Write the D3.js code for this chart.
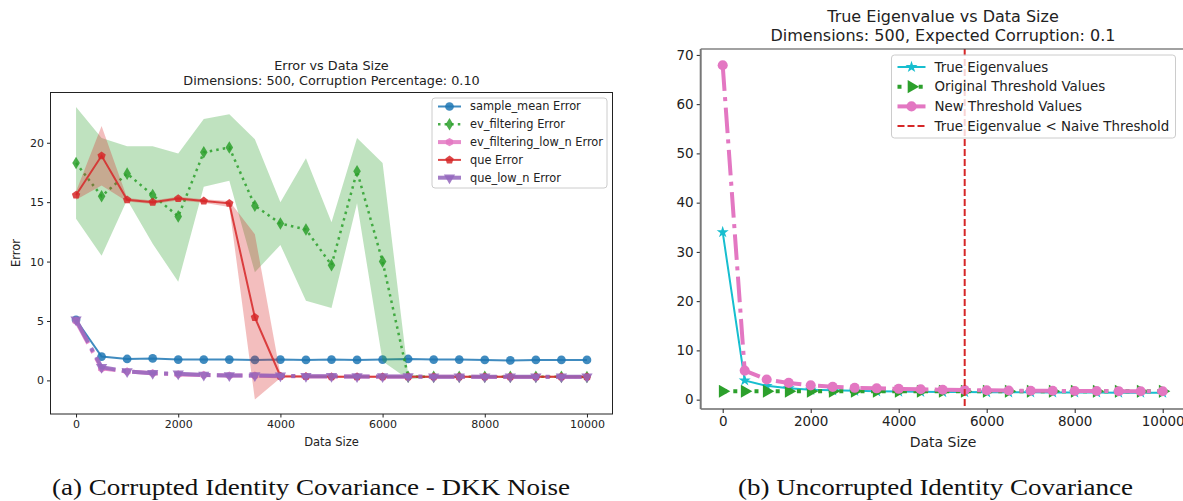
<!DOCTYPE html>
<html>
<head>
<meta charset="utf-8">
<script src="https://cdn.jsdelivr.net/npm/d3@7"></script>
<style>
  body { margin: 0; background: #fff; }
  svg { display: block; font-family: "DejaVu Sans", sans-serif; }
  .cap { font-family: "Liberation Serif", "DejaVu Serif", serif; }
</style>
</head>
<body>
<svg id="fig" width="1183" height="501"></svg>
<script>
// ---- data: left panel (errors vs data size) ----
const sizes = [0, 500, 1000, 1500, 2000, 2500, 3000, 3500, 4000, 4500, 5000,
               5500, 6000, 6500, 7000, 7500, 8000, 8500, 9000, 9500, 10000];

const sampleMean = [5.1, 2.0, 1.8, 1.85, 1.75, 1.75, 1.75, 1.72, 1.75, 1.72, 1.75,
                    1.72, 1.75, 1.8, 1.75, 1.75, 1.72, 1.68, 1.72, 1.72, 1.72];
const evFilt     = [18.3, 15.5, 17.4, 15.6, 13.8, 19.2, 19.6, 14.7, 13.2, 12.7, 9.7,
                    17.6, 10.0, 0.3, 0.3, 0.3, 0.3, 0.3, 0.3, 0.3, 0.28];
const evFiltHi   = [23.0, 20.4, 19.7, 19.7, 19.1, 22.0, 22.4, 20.3, 15.0, 18.7, 13.3,
                    20.4, 18.3, 0.5, 0.35, 0.35, 0.35, 0.35, 0.35, 0.35, 0.33];
const evFiltLo   = [13.6, 10.5, 15.2, 11.5, 8.3, 16.3, 16.8, 9.1, 11.4, 6.7, 6.1,
                    14.9, 1.6, 0.1, 0.25, 0.25, 0.25, 0.25, 0.25, 0.25, 0.23];
const evFiltLowN = [5.0, 1.0, 0.75, 0.6, 0.5, 0.45, 0.4, 0.4, 0.35, 0.33, 0.32,
                    0.32, 0.3, 0.3, 0.3, 0.3, 0.29, 0.29, 0.28, 0.28, 0.28];
const que        = [15.6, 18.9, 15.2, 15.0, 15.3, 15.1, 14.9, 5.3, 0.35, 0.32, 0.3,
                    0.3, 0.3, 0.3, 0.3, 0.3, 0.3, 0.3, 0.3, 0.3, 0.3];
const queHi      = [15.9, 21.4, 15.35, 15.15, 15.45, 15.25, 15.1, 12.3, 0.5, 0.4, 0.38,
                    0.38, 0.38, 0.38, 0.38, 0.38, 0.38, 0.38, 0.38, 0.38, 0.38];
const queLo      = [15.2, 16.4, 15.05, 14.85, 15.15, 14.95, 14.6, -1.6, 0.2, 0.24, 0.22,
                    0.22, 0.22, 0.22, 0.22, 0.22, 0.22, 0.22, 0.22, 0.22, 0.22];
const queLowN    = [5.1, 1.1, 0.75, 0.6, 0.55, 0.45, 0.42, 0.42, 0.38, 0.35, 0.34,
                    0.33, 0.32, 0.32, 0.31, 0.31, 0.3, 0.3, 0.3, 0.3, 0.3];

// ---- data: right panel (eigenvalues vs data size) ----
const trueEig  = [34.0, 3.9, 2.8, 2.3, 2.0, 1.9, 1.8, 1.7, 1.65, 1.6, 1.55,
                  1.55, 1.5, 1.5, 1.5, 1.45, 1.45, 1.45, 1.42, 1.42, 1.4];
const origThr  = [1.7, 1.7, 1.7, 1.7, 1.7, 1.7, 1.7, 1.7, 1.7, 1.7, 1.7,
                  1.7, 1.7, 1.7, 1.7, 1.7, 1.7, 1.7, 1.7, 1.7, 1.7];
const newThr   = [67.9, 5.9, 4.1, 3.4, 2.9, 2.6, 2.4, 2.3, 2.2, 2.1, 2.0,
                  1.95, 1.9, 1.85, 1.8, 1.8, 1.75, 1.75, 1.72, 1.7, 1.7];
const naiveCross = 5500;

const xTicks = [0, 2000, 4000, 6000, 8000, 10000];
const leftYTicks = [0, 5, 10, 15, 20];
const rightYTicks = [0, 10, 20, 30, 40, 50, 60, 70];

const C = { blue: "#1f77b4", green: "#2ca02c", pink: "#e377c2", red: "#d62728",
            purple: "#9467bd", cyan: "#17becf" };

const svg = d3.select("#fig");

// custom marker shapes
function polygon(n, rot) {
  return { draw(ctx, size) {
    const r = Math.sqrt(size / (n * 0.5 * Math.sin(2 * Math.PI / n)));
    for (let i = 0; i < n; i++) {
      const a = rot + i * 2 * Math.PI / n;
      const x = r * Math.sin(a), y = -r * Math.cos(a);
      i ? ctx.lineTo(x, y) : ctx.moveTo(x, y);
    }
    ctx.closePath();
  }};
}
const thinDiamond = { draw(ctx, size) {
  const h = Math.sqrt(size) * 0.85, w = h * 0.6;
  ctx.moveTo(0, -h); ctx.lineTo(w, 0); ctx.lineTo(0, h); ctx.lineTo(-w, 0); ctx.closePath();
}};
const shapes = {
  circle: d3.symbolCircle,
  diamond: thinDiamond,
  hexagon: polygon(6, 0),
  pentagon: polygon(5, 0),
  tridown: polygon(3, Math.PI),
  triright: polygon(3, Math.PI / 2),
  star: d3.symbolStar
};

function axes(g, x, y, yTicks, fs, tickLen) {
  const [x0, x1] = x.range(), [y0, y1] = y.range();
  const ax = g.append("g").attr("transform", `translate(0,${y0})`)
    .call(d3.axisBottom(x).tickValues(xTicks).tickSize(tickLen).tickPadding(3).tickFormat(d3.format("d")));
  const ay = g.append("g").attr("transform", `translate(${x0},0)`)
    .call(d3.axisLeft(y).tickValues(yTicks).tickSize(tickLen).tickPadding(3).tickFormat(d3.format("d")));
  [ax, ay].forEach(a => {
    a.select(".domain").remove();
    a.selectAll("text").attr("font-size", fs).attr("fill", "#222").attr("font-family", "DejaVu Sans");
    a.selectAll("line").attr("stroke", "#222");
  });
  return { x0, x1, y0, y1 };
}

function series(g, x, y, vals, o) {
  const pts = sizes.map((s, i) => [x(s), y(vals[i])]);
  g.append("path").attr("d", d3.line()(pts)).attr("fill", "none")
    .attr("stroke", o.color).attr("stroke-width", o.lw)
    .attr("stroke-dasharray", o.dash || null).attr("opacity", o.alpha || 1);
  g.append("g").selectAll("path").data(pts).enter().append("path")
    .attr("d", d3.symbol().type(shapes[o.marker]).size(o.size))
    .attr("transform", d => `translate(${d[0]},${d[1]})`)
    .attr("fill", o.color).attr("opacity", o.alpha || 1);
}

function band(g, x, y, lo, hi, color) {
  const area = d3.area().x((d, i) => x(sizes[i])).y0((d, i) => y(lo[i])).y1((d, i) => y(hi[i]));
  g.append("path").attr("d", area(sizes)).attr("fill", color).attr("opacity", 0.3);
}

function legend(g, x, y, w, h, rows, fs, lineLen, rowH, first) {
  const lg = g.append("g");
  lg.append("rect").attr("x", x).attr("y", y).attr("width", w).attr("height", h)
    .attr("rx", 3).attr("fill", "#fff").attr("fill-opacity", 0.8)
    .attr("stroke", "#ccc").attr("stroke-width", 1);
  rows.forEach((r, i) => {
    const cy = y + first + i * rowH;
    const lx = x + 6;
    lg.append("line").attr("x1", lx).attr("x2", lx + lineLen).attr("y1", cy).attr("y2", cy)
      .attr("stroke", r.color).attr("stroke-width", r.lw).attr("stroke-dasharray", r.dash || null)
      .attr("opacity", r.alpha || 1);
    if (r.marker) lg.append("path").attr("d", d3.symbol().type(shapes[r.marker]).size(r.size))
      .attr("transform", `translate(${lx + lineLen / 2},${cy})`).attr("fill", r.color)
      .attr("opacity", r.alpha || 1);
    lg.append("text").attr("x", lx + lineLen + 9).attr("y", cy).attr("dy", "0.35em")
      .attr("font-size", fs).attr("fill", "#222").text(r.label);
  });
}

// ================= left panel =================
{
  const x = d3.scaleLinear().domain([-500, 10500]).range([50.5, 612.5]);
  const y = d3.scaleLinear().domain([-2.83, 24.23]).range([414, 92.5]);
  const g = svg.append("g");
  const defs = svg.append("defs");
  defs.append("clipPath").attr("id", "clipL").append("rect")
    .attr("x", 50.5).attr("y", 92.5).attr("width", 562).attr("height", 321.5);
  const plot = g.append("g").attr("clip-path", "url(#clipL)");

  const st = {
    blue:   { color: C.blue, lw: 2, marker: "circle", size: 60, alpha: 0.85 },
    green:  { color: C.green, lw: 2.5, dash: "2.5 4.1", marker: "diamond", size: 55, alpha: 0.85 },
    pink:   { color: C.pink, lw: 4, dash: "25.6 6.4 4 6.4", marker: "hexagon", size: 45, alpha: 0.85 },
    red:    { color: C.red, lw: 2, marker: "pentagon", size: 45, alpha: 0.85 },
    purple: { color: C.purple, lw: 4, dash: "25.6 6.4 4 6.4", marker: "tridown", size: 55, alpha: 0.85 }
  };

  series(plot, x, y, sampleMean, st.blue);
  band(plot, x, y, evFiltLo, evFiltHi, C.green);
  series(plot, x, y, evFilt, st.green);
  series(plot, x, y, evFiltLowN, st.pink);
  band(plot, x, y, queLo, queHi, C.red);
  series(plot, x, y, que, st.red);
  series(plot, x, y, queLowN, st.purple);

  const b = axes(g, x, y, leftYTicks, 11, 3.5);
  g.append("rect").attr("x", b.x0).attr("y", b.y1).attr("width", b.x1 - b.x0).attr("height", b.y0 - b.y1)
    .attr("fill", "none").attr("stroke", "#222").attr("stroke-width", 1);

  g.append("text").attr("x", 331.5).attr("y", 70).attr("text-anchor", "middle")
    .attr("font-size", 12.8).attr("fill", "#222").text("Error vs Data Size");
  g.append("text").attr("x", 331.5).attr("y", 85).attr("text-anchor", "middle")
    .attr("font-size", 12.8).attr("fill", "#222").text("Dimensions: 500, Corruption Percentage: 0.10");
  g.append("text").attr("x", 331.5).attr("y", 446).attr("text-anchor", "middle")
    .attr("font-size", 11.5).attr("fill", "#222").text("Data Size");
  g.append("text").attr("transform", "translate(20,253) rotate(-90)").attr("text-anchor", "middle")
    .attr("font-size", 11.5).attr("fill", "#222").text("Error");

  legend(g, 432, 98, 175, 90, [
    { label: "sample_mean Error", ...st.blue },
    { label: "ev_filtering Error", ...st.green, dash: "2.5 4.1" },
    { label: "ev_filtering_low_n Error", ...st.pink, dash: null },
    { label: "que Error", ...st.red },
    { label: "que_low_n Error", ...st.purple, dash: null }
  ], 11.4, 23, 17.8, 8.5);
}

// ================= right panel =================
{
  const x = d3.scaleLinear().domain([-500, 10500]).range([700.7, 1184.7]);
  const y = d3.scaleLinear().domain([-1.9, 71.2]).range([409, 49]);
  const g = svg.append("g");
  svg.select("defs").append("clipPath").attr("id", "clipR").append("rect")
    .attr("x", 700.7).attr("y", 49).attr("width", 484).attr("height", 360);
  const plot = g.append("g").attr("clip-path", "url(#clipR)");

  const st = {
    cyan:  { color: C.cyan, lw: 2, marker: "star", size: 45 },
    green: { color: C.green, lw: 4, dash: "4 6.6", marker: "triright", size: 75 },
    pink:  { color: C.pink, lw: 4, dash: "25.6 6.4 4 6.4", marker: "circle", size: 80 }
  };
  series(plot, x, y, trueEig, st.cyan);
  series(plot, x, y, origThr, st.green);
  series(plot, x, y, newThr, st.pink);

  plot.append("line").attr("x1", x(naiveCross)).attr("x2", x(naiveCross))
    .attr("y1", 49).attr("y2", 409).attr("stroke", C.red).attr("stroke-width", 2)
    .attr("stroke-dasharray", "7 3");

  const b = axes(g, x, y, rightYTicks, 13.5, 4);
  g.append("line").attr("x1", b.x0).attr("x2", 1190).attr("y1", b.y0).attr("y2", b.y0)
    .attr("stroke", "#222").attr("stroke-width", 1.2);
  g.append("line").attr("x1", b.x0).attr("x2", 1190).attr("y1", b.y1).attr("y2", b.y1)
    .attr("stroke", "#444").attr("stroke-width", 1.2);
  g.append("line").attr("x1", b.x0).attr("x2", b.x0).attr("y1", b.y1).attr("y2", b.y0)
    .attr("stroke", "#777").attr("stroke-width", 2);

  g.append("text").attr("x", 943).attr("y", 22).attr("text-anchor", "middle")
    .attr("font-size", 16).attr("fill", "#222").text("True Eigenvalue vs Data Size");
  g.append("text").attr("x", 943).attr("y", 41).attr("text-anchor", "middle")
    .attr("font-size", 16).attr("fill", "#222").text("Dimensions: 500, Expected Corruption: 0.1");
  g.append("text").attr("x", 943).attr("y", 447).attr("text-anchor", "middle")
    .attr("font-size", 14).attr("fill", "#222").text("Data Size");

  legend(g, 891.5, 55, 284, 83, [
    { label: "True Eigenvalues", ...st.cyan },
    { label: "Original Threshold Values", ...st.green },
    { label: "New Threshold Values", ...st.pink, dash: null },
    { label: "True Eigenvalue < Naive Threshold", color: C.red, lw: 2, dash: "7 3" }
  ], 13.4, 28, 19.7, 12);
}

// ================= captions =================
svg.append("text").attr("class", "cap").attr("x", 311).attr("y", 495).attr("text-anchor", "middle")
  .attr("font-size", 24).attr("textLength", 518).attr("lengthAdjust", "spacingAndGlyphs")
  .attr("fill", "#111").text("(a) Corrupted Identity Covariance - DKK Noise");
svg.append("text").attr("class", "cap").attr("x", 935.5).attr("y", 495).attr("text-anchor", "middle")
  .attr("font-size", 24).attr("textLength", 395).attr("lengthAdjust", "spacingAndGlyphs")
  .attr("fill", "#111").text("(b) Uncorrupted Identity Covariance");
</script>
</body>
</html>
